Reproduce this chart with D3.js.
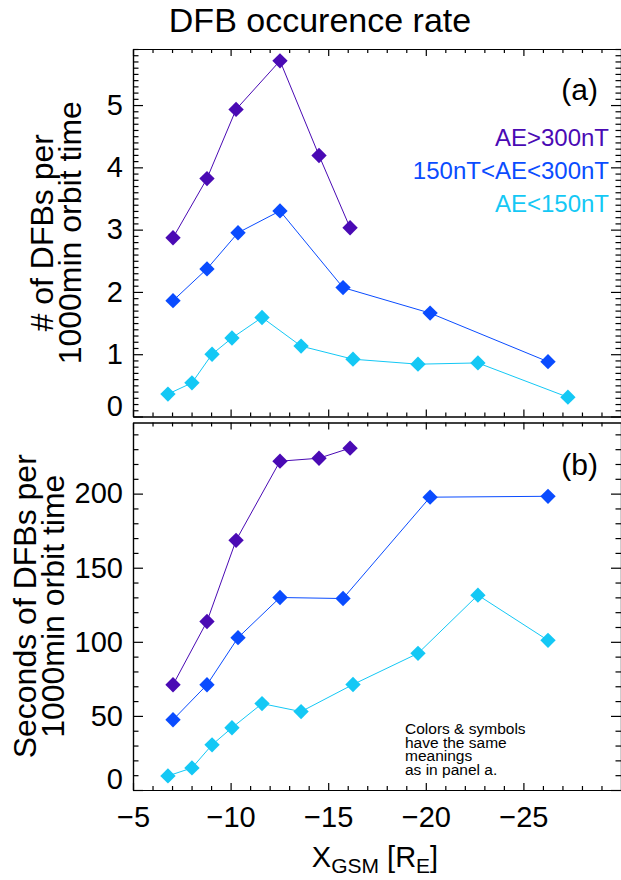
<!DOCTYPE html>
<html>
<head>
<meta charset="utf-8">
<script src="https://cdn.jsdelivr.net/npm/d3@7"></script>
<style>
    body { margin: 0; background: #fff; }
    svg { display: block; font-family: "Liberation Sans", Arial, sans-serif; }
    .axis path, .axis line { stroke: #000; stroke-width: 1.2; }
    .axis text { font-size: 29px; fill: #000; font-family: "Liberation Sans", Arial, sans-serif; }
</style>
</head>
<body>
<svg id="chart" width="621" height="880"></svg>
<script>
// X_GSM positions (R_E) for each AE bin
const xHigh = [-7.05, -8.79, -10.28, -12.53, -14.53, -16.12];
const xMid = [-7.05, -8.79, -10.38, -12.53, -15.76, -20.22, -26.26];
const xLow = [-6.79, -8.02, -9.05, -10.07, -11.61, -13.61, -16.27, -19.60, -22.67, -27.28];
const xLowB = [-6.79, -8.02, -9.05, -10.07, -11.61, -13.61, -16.27, -19.60, -22.67, -26.26];

// panel (a): # of DFBs per 1000 min orbit time
const countHigh = [2.87, 3.82, 4.93, 5.71, 4.19, 3.03];
const countMid = [1.86, 2.37, 2.95, 3.30, 2.07, 1.66, 0.88];
const countLow = [0.36, 0.54, 1.00, 1.26, 1.59, 1.13, 0.92, 0.84, 0.86, 0.31];

// panel (b): seconds of DFBs per 1000 min orbit time
const secHigh = [71.0, 113.7, 168.5, 221.9, 223.9, 230.7];
const secMid = [47.4, 71.0, 102.8, 129.9, 129.2, 197.6, 198.2];
const secLow = [9.5, 14.9, 30.5, 42.0, 58.3, 52.9, 71.2, 92.2, 131.5, 101.0];

const legendLabels = ['AE>300nT', '150nT<AE<300nT', 'AE<150nT'];
const xTicks = [-5, -10, -15, -20, -25];
const yTicksA = [0, 1, 2, 3, 4, 5];
const yTicksB = [0, 50, 100, 150, 200];

const COLORS = ['#4a0ab4', '#0a4cff', '#14c8f5'];

const svg = d3.select('#chart');
const left = 133, right = 621;

const x = d3.scaleLinear().domain([-5, -30]).range([left, right]);

const panels = [
    {
        top: 49, bottom: 416.5, domain: [0, 5.9], ticks: yTicksA, minorStep: 0.1,
        series: [[xHigh, countHigh], [xMid, countMid], [xLow, countLow]],
        tag: '(a)', tagY: 100, xLabels: false,
        title: ['# of DFBs per', '1000min orbit time'], titleX: [53, 81]
    },
    {
        top: 422.5, bottom: 790, domain: [0, 248], ticks: yTicksB, minorStep: 10,
        series: [[xHigh, secHigh], [xMid, secMid], [xLowB, secLow]],
        tag: '(b)', tagY: 475, xLabels: true,
        title: ['Seconds of DFBs per', '1000min orbit time'], titleX: [36, 64]
    }
];

const xMinor = d3.range(-5, -30.01, -1).filter(v => v % 5 !== 0);

panels.forEach(p => {
    const y = d3.scaleLinear().domain(p.domain).range([p.bottom, p.top]);
    const yMinor = d3.range(p.domain[0], p.domain[1] + 1e-9, p.minorStep)
        .filter(v => !p.ticks.some(t => Math.abs(t - v) < 1e-6));
    const g = svg.append('g');

    // minor ticks
    g.append('g').attr('class', 'axis').attr('transform', `translate(${left},0)`)
        .call(d3.axisLeft(y).tickValues(yMinor).tickSize(-5.5).tickSizeOuter(0).tickFormat(''));
    g.append('g').attr('class', 'axis').attr('transform', `translate(${right},0)`)
        .call(d3.axisRight(y).tickValues(yMinor).tickSize(-5.5).tickSizeOuter(0).tickFormat(''));
    g.append('g').attr('class', 'axis').attr('transform', `translate(0,${p.top})`)
        .call(d3.axisTop(x).tickValues(xMinor).tickSize(-4).tickSizeOuter(0).tickFormat(''));
    g.append('g').attr('class', 'axis').attr('transform', `translate(0,${p.bottom})`)
        .call(d3.axisBottom(x).tickValues(xMinor).tickSize(-4).tickSizeOuter(0).tickFormat(''));

    // major ticks
    const yAxis = g.append('g').attr('class', 'axis').attr('transform', `translate(${left},0)`)
        .call(d3.axisLeft(y).tickValues(p.ticks).tickSize(-10).tickSizeOuter(0).tickPadding(10).tickFormat(d3.format('d')));
    yAxis.selectAll('.tick text').filter(d => d === 0).attr('dy', '-0.05em');
    g.append('g').attr('class', 'axis').attr('transform', `translate(${right},0)`)
        .call(d3.axisRight(y).tickValues(p.ticks).tickSize(-10).tickSizeOuter(0).tickFormat(''));
    g.append('g').attr('class', 'axis').attr('transform', `translate(0,${p.top})`)
        .call(d3.axisTop(x).tickValues(xTicks).tickSize(-7).tickSizeOuter(0).tickFormat(''));
    g.append('g').attr('class', 'axis').attr('transform', `translate(0,${p.bottom})`)
        .call(d3.axisBottom(x).tickValues(xTicks).tickSize(-7).tickSizeOuter(0).tickPadding(16)
            .tickFormat(p.xLabels ? d3.format('d') : ''));

    g.selectAll('.axis text').style('font-size', '29px');

    // data
    const line = d3.line().x(d => x(d[0])).y(d => y(d[1]));
    p.series.forEach(([xs, ys], i) => {
        const pts = xs.map((v, j) => [v, ys[j]]);
        g.append('path').datum(pts)
            .attr('d', line)
            .attr('fill', 'none')
            .attr('stroke', COLORS[i])
            .attr('stroke-width', 1);
        g.selectAll(null).data(pts).enter().append('path')
            .attr('d', d3.symbol().type(d3.symbolDiamond2).size(150))
            .attr('transform', d => `translate(${x(d[0])},${y(d[1])})`)
            .attr('fill', COLORS[i]);
    });

    // panel tag
    g.append('text').attr('x', 598).attr('y', p.tagY).attr('text-anchor', 'end')
        .style('font-size', '30px').text(p.tag);

    // y title
    const cy = (p.top + p.bottom) / 2;
    p.title.forEach((t, i) => {
        g.append('text')
            .attr('transform', `translate(${p.titleX[i]},${cy}) rotate(-90)`)
            .attr('text-anchor', 'middle')
            .style('font-size', '32px')
            .text(t);
    });
});

// legend
legendLabels.forEach((t, i) => {
    svg.append('text').attr('x', 609).attr('y', 146 + i * 33)
        .attr('text-anchor', 'end').attr('fill', COLORS[i])
        .style('font-size', '24px').text(t);
});

// note in panel b
const note = ['Colors & symbols', 'have the same', 'meanings', 'as in panel a.'];
note.forEach((t, i) => {
    svg.append('text').attr('x', 405).attr('y', 734 + i * 13.5)
        .style('font-size', '15.5px').text(t);
});

// title
svg.append('text').attr('x', 320).attr('y', 32).attr('text-anchor', 'middle')
    .style('font-size', '34px').text('DFB occurence rate');

// x title
const xt = svg.append('text').attr('x', 375).attr('y', 867).attr('text-anchor', 'middle')
    .style('font-size', '29px');
xt.append('tspan').text('X');
xt.append('tspan').attr('dy', 6).style('font-size', '21px').text('GSM');
xt.append('tspan').attr('dy', -6).text(' [R');
xt.append('tspan').attr('dy', 6).style('font-size', '21px').text('E');
xt.append('tspan').attr('dy', -6).text(']');
</script>
</body>
</html>
